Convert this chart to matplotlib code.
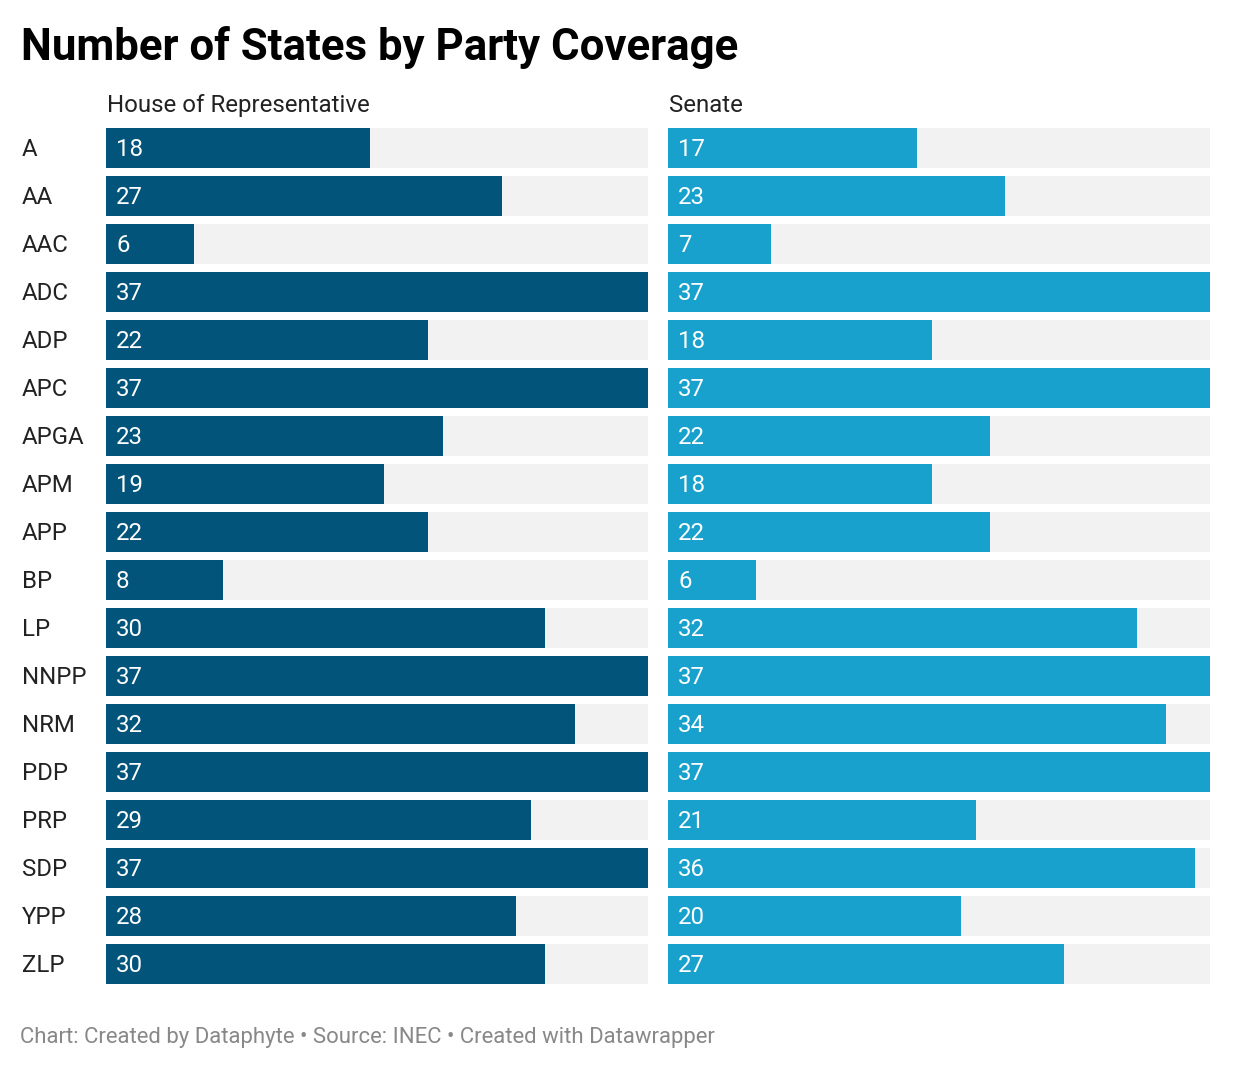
import matplotlib
matplotlib.use("Agg")
import matplotlib.pyplot as plt

parties = ["A", "AA", "AAC", "ADC", "ADP", "APC", "APGA", "APM", "APP", "BP",
           "LP", "NNPP", "NRM", "PDP", "PRP", "SDP", "YPP", "ZLP"]
house = [18, 27, 6, 37, 22, 37, 23, 19, 22, 8, 30, 37, 32, 37, 29, 37, 28, 30]
senate = [17, 23, 7, 37, 18, 37, 22, 18, 22, 6, 32, 37, 34, 37, 21, 36, 20, 27]
panel_titles = ["House of Representative", "Senate"]
title = "Number of States by Party Coverage"
footer = "Chart: Created by Dataphyte • Source: INEC • Created with Datawrapper"
max_val = 37

plt.rcParams['font.family'] = ['Roboto', 'DejaVu Sans']

W, H = 1240, 1070
fig = plt.figure(figsize=(W / 100, H / 100), dpi=100)

def fx(px):
    return px / W

def fy(py):
    return 1 - py / H

top_px, bot_px = 128, 984
panels = [(106, 648, house, "#02547b"), (668, 1210, senate, "#19a1cd")]
n = len(parties)
bh = 40 / 48
fs = 17.3

for (x0, x1, vals, col), ptitle in zip(panels, panel_titles):
    ax = fig.add_axes([fx(x0), fy(bot_px), fx(x1 - x0), (bot_px - top_px) / H])
    ys = list(range(n))
    ax.barh(ys, [max_val] * n, height=bh, color="#f2f2f2", linewidth=0)
    ax.barh(ys, vals, height=bh, color=col, linewidth=0)
    ax.set_xlim(0, max_val)
    ax.set_ylim(n - 1 + bh / 2, -bh / 2)
    ax.axis("off")
    for y, v in zip(ys, vals):
        ax.annotate(str(v), (0, y), xytext=(10, 1), textcoords="offset pixels",
                    ha="left", va="center_baseline", color="white", fontsize=fs)
    fig.text(fx(x0 + 1), fy(103), ptitle, ha="left", va="center_baseline",
             fontsize=fs, color="#222222")

for i, p in enumerate(parties):
    fig.text(fx(22), fy(147 + 48 * i), p, ha="left", va="center_baseline",
             fontsize=fs, color="#222222")

fig.text(fx(21), fy(43), title, ha="left", va="center_baseline",
         fontsize=31.5, fontweight="bold", color="#000000")
fig.text(fx(20), fy(1035), footer, ha="left", va="center_baseline",
         fontsize=15.9, color="#888888")

fig.savefig("out.png", dpi=100, facecolor="white")
